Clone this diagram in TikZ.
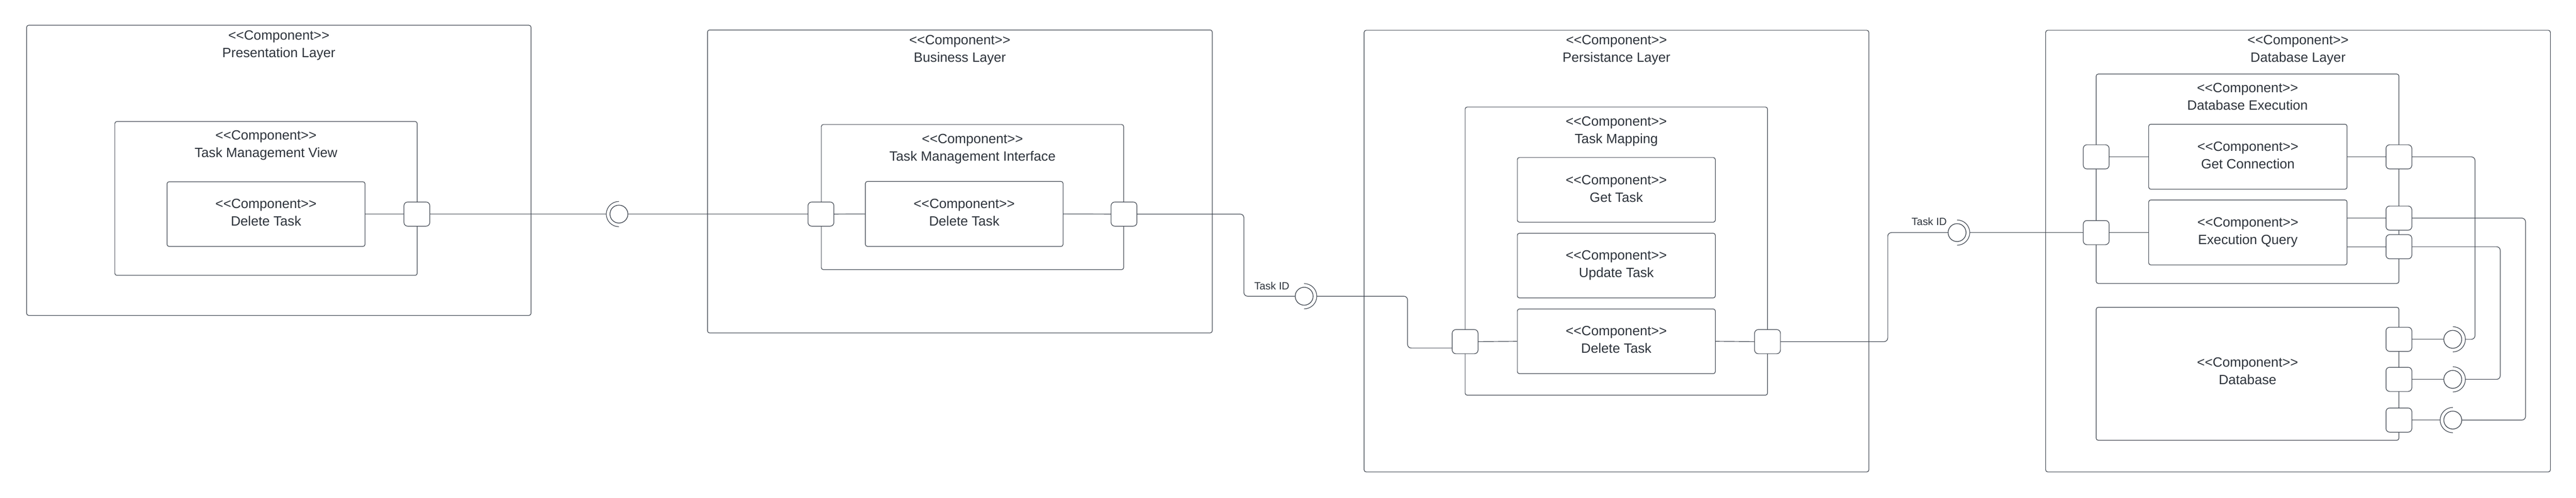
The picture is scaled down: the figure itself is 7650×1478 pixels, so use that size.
\documentclass[tikz,border=0pt]{standalone}
\usepackage{fontspec}
\setmainfont{Liberation Sans}[Ligatures=TeXOff]
\definecolor{ln}{HTML}{3F4650}
\definecolor{tx}{HTML}{2D333B}
\tikzset{
 comp/.style={draw=ln, line width=0.18pt, rounded corners=0.6pt, fill=white, inner sep=0pt},
 port/.style={draw=ln, line width=0.18pt, rounded corners=1.1pt, fill=white, minimum width=7.5pt, minimum height=7pt, inner sep=0pt},
 ball/.style={circle, draw=ln, line width=0.18pt, fill=white, minimum size=5.3pt, inner sep=0pt},
 sock/.style={draw=ln, line width=0.18pt},
 conn/.style={draw=ln, line width=0.18pt, rounded corners=1.1pt},
 ttl/.style={anchor=base, inner sep=0pt, text=tx, font=\fontsize{4}{5}\selectfont},
 lab/.style={anchor=base, inner sep=0pt, text=tx, font=\fontsize{3.13}{4}\selectfont},
}
\newcommand{\comptitle}[4]{\node[ttl] (#1a) at (#2,#3) {<{}<Component>{}>}; \node[ttl] (#1b) at (#2,#3+52) {#4};}
\begin{document}
\begin{tikzpicture}[x=0.1pt,y=-0.1pt]
\fill[white] (0,0) rectangle (7650,1478);
\useasboundingbox (0,0) rectangle (7650,1478);
% outer layers
\node[comp, minimum width=149.8pt, minimum height=86.2pt] (pres) at (828,506) {};
\node[comp, minimum width=149.9pt, minimum height=90pt] (bus) at (2850.5,539) {};
\node[comp, minimum width=149.9pt, minimum height=131.2pt] (pers) at (4800.5,746) {};
\node[comp, minimum width=149.9pt, minimum height=131.2pt] (dbl) at (6824.5,746) {};
% middle components
\node[comp, minimum width=89.8pt, minimum height=45.7pt] (tmv) at (790,589.5) {};
\node[comp, minimum width=89.8pt, minimum height=43.1pt] (tmi) at (2888,585.5) {};
\node[comp, minimum width=89.8pt, minimum height=85.6pt] (tmap) at (4800,746) {};
\node[comp, minimum width=89.9pt, minimum height=62.2pt] (dbe) at (6674.5,531) {};
\node[comp, minimum width=89.9pt, minimum height=39.5pt] (db) at (6674.5,1110.5) {};
% leaf components
\node[comp, minimum width=58.8pt, minimum height=19.2pt] (delp) at (790,636) {};
\node[comp, minimum width=58.7pt, minimum height=19.3pt] (delb) at (2863.5,635.5) {};
\node[comp, minimum width=58.8pt, minimum height=19.2pt] (gett) at (4800,564) {};
\node[comp, minimum width=58.8pt, minimum height=19.2pt] (updt) at (4800,789) {};
\node[comp, minimum width=58.8pt, minimum height=19.2pt] (delt) at (4800,1014) {};
\node[comp, minimum width=58.9pt, minimum height=19.3pt] (getc) at (6675.5,465.5) {};
\node[comp, minimum width=58.9pt, minimum height=19.3pt] (exq) at (6675.5,690.5) {};
% ports
\node[port] (portp) at (1238,636) {};
\node[port] (portb1) at (2438,636) {};
\node[port] (portb2) at (3338,636) {};
\node[port] (portm1) at (4351,1015) {};
\node[port] (portm2) at (5249,1015) {};
\node[port] (porte1) at (6225,466) {};
\node[port] (porte2) at (6225,691) {};
\node[port] (portr1) at (7124,466) {};
\node[port] (portr2) at (7124,648) {};
\node[port] (portr3) at (7124,733) {};
\node[port] (portd1) at (7124,1008) {};
\node[port] (portd2) at (7124,1127) {};
\node[port] (portd3) at (7124,1248) {};
% interfaces
\node[ball] (i1) at (1838,636) {};
\node[ball] (i2) at (3873,880) {};
\node[ball] (i3) at (5812,691) {};
\node[ball] (d1) at (7284,1008) {};
\node[ball] (d2) at (7284,1127) {};
\node[ball] (d3) at (7284,1248) {};
\coordinate (s1) at ([xshift=-3.75pt]i1.center);
\coordinate (s2) at ([xshift=3.75pt]i2.center);
\coordinate (s3) at ([xshift=3.75pt]i3.center);
\coordinate (sd1) at ([xshift=3.75pt]d1.center);
\coordinate (sd2) at ([xshift=3.75pt]d2.center);
\coordinate (sd3) at ([xshift=-3.75pt]d3.center);
% connectors
\draw[conn] (delp.east) -- (portp.west);
\draw[conn] (portp.east) -- (s1);
\draw[conn] (i1.east) -- (portb1.west);
\draw[conn] (portb1.east) -- (delb.west);
\draw[conn] (delb.east) -- (portb2.west);
\draw[conn] (portb2.east) -- (3694,636) -- (3694,880) -- (i2.west);
\draw[conn] (s2) -- (4180,880) -- (4180,1034) -- ([yshift=-1.9pt]portm1.west);
\draw[conn] (portm1.east) -- (delt.west);
\draw[conn] (delt.east) -- (portm2.west);
\draw[conn] (portm2.east) -- (5606,1015) -- (5606,691) -- (i3.west);
\draw[conn] (s3) -- (porte2.west);
\draw[conn] (porte1.east) -- (porte1.east -| getc.west);
\draw[conn] (porte2.east) -- (porte2.east -| exq.west);
\draw[conn] (getc.east |- portr1) -- (portr1.west);
\draw[conn] (exq.east |- portr2) -- (portr2.west);
\draw[conn] (exq.east |- portr3) -- (portr3.west);
\draw[conn] (portd1.east) -- (d1.west);
\draw[conn] (sd1) -- (7350,1008) -- (7350,466) -- (portr1.east);
\draw[conn] (portd2.east) -- (d2.west);
\draw[conn] (sd2) -- (7425,1127) -- (7425,733) -- (portr3.east);
\draw[conn] (portd3.east) -- (sd3);
\draw[conn] (d3.east) -- (7500,1248) -- (7500,648) -- (portr2.east);
% redraw ports and balls on top of connectors
\foreach \p in {portp,portb1,portb2,portm1,portm2,porte1,porte2,portr1,portr2,portr3,portd1,portd2,portd3}
  \draw[ln, line width=0.18pt, rounded corners=1.1pt, fill=white] (\p.south west) rectangle (\p.north east);
\foreach \b in {i1,i2,i3,d1,d2,d3}
  \draw[ln, line width=0.18pt, fill=white] (\b.center) circle[radius=2.65pt];
% sockets
\draw[sock] ([yshift=3.75pt]i1.center) arc[start angle=90, end angle=270, radius=3.75pt];
\draw[sock] ([yshift=3.75pt]i2.center) arc[start angle=90, end angle=-90, radius=3.75pt];
\draw[sock] ([yshift=3.75pt]i3.center) arc[start angle=90, end angle=-90, radius=3.75pt];
\draw[sock] ([yshift=3.75pt]d1.center) arc[start angle=90, end angle=-90, radius=3.75pt];
\draw[sock] ([yshift=3.75pt]d2.center) arc[start angle=90, end angle=-90, radius=3.75pt];
\draw[sock] ([yshift=3.75pt]d3.center) arc[start angle=90, end angle=270, radius=3.75pt];
% titles
\comptitle{presT}{828}{118}{Presentation Layer}
\comptitle{tmvT}{790}{416}{Task Management View}
\comptitle{delpT}{790}{619}{Delete Task}
\comptitle{busT}{2850.5}{132}{Business Layer}
\comptitle{tmiT}{2888}{426}{Task Management Interface}
\comptitle{delbT}{2863.5}{619}{Delete Task}
\comptitle{persT}{4800.5}{133}{Persistance Layer}
\comptitle{tmapT}{4800}{374}{Task Mapping}
\comptitle{gettT}{4800}{548}{Get Task}
\comptitle{updtT}{4800}{772}{Update Task}
\comptitle{deltT}{4800}{997}{Delete Task}
\comptitle{dblT}{6824.5}{133}{Database Layer}
\comptitle{dbeT}{6674.5}{275}{Database Execution}
\comptitle{getcT}{6675.5}{449}{Get Connection}
\comptitle{exqT}{6675.5}{674}{Execution Query}
\comptitle{dbT}{6674.5}{1090}{Database}
\node[lab] (tid1) at (3777,860) {Task ID};
\node[lab] (tid2) at (5729,670) {Task ID};
\end{tikzpicture}
\end{document}
